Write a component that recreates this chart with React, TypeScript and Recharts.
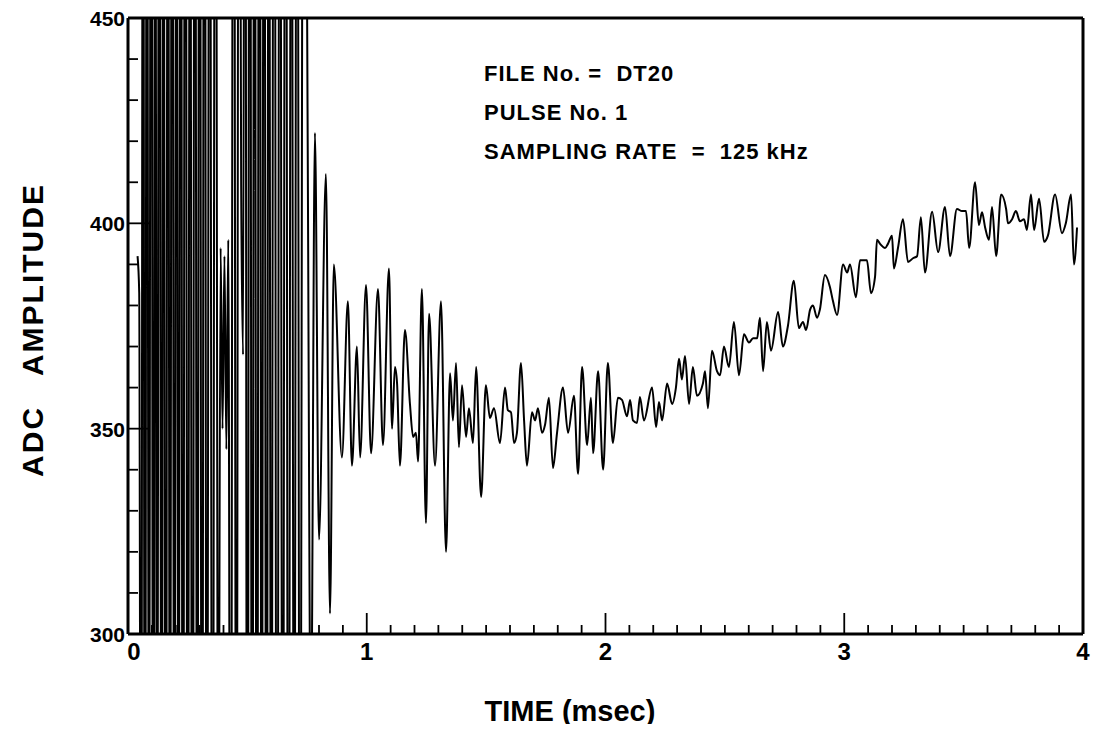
import React from 'react';
import { LineChart, Line, XAxis, YAxis, ReferenceLine } from 'recharts';

// Early, over-ranged oscillation (time in msec, ADC amplitude)
const EARLY_T = [
  0.040, 0.047, 0.055, 0.063, 0.071, 0.079, 0.088, 0.097, 0.106, 0.114,
  0.122, 0.131, 0.140, 0.149, 0.158, 0.167, 0.176, 0.185, 0.194, 0.203,
  0.212, 0.221, 0.230, 0.240, 0.250, 0.260, 0.270, 0.280, 0.290, 0.300,
  0.310, 0.320, 0.330, 0.342, 0.354, 0.366, 0.378, 0.388, 0.396, 0.404,
  0.412, 0.420, 0.430, 0.442, 0.454, 0.465, 0.474, 0.482, 0.490, 0.500,
  0.510, 0.520, 0.530, 0.540, 0.550, 0.560, 0.570, 0.580, 0.590, 0.600,
  0.612, 0.624, 0.636, 0.648, 0.660, 0.672, 0.684, 0.696, 0.708, 0.720,
  0.736, 0.752, 0.766, 0.783, 0.800, 0.829, 0.846,
];
const EARLY_ADC = [
  392, 383, 160, 610, 140, 590, 200, 630, 150, 580,
  170, 620, 190, 560, 130, 600, 180, 640, 160, 570,
  200, 600, 150, 620, 180, 560, 140, 600, 210, 590,
  160, 620, 190, 570, 170, 600, 230, 394, 350, 392,
  345, 396, 170, 610, 200, 590, 409, 368, 600, 150,
  620, 180, 580, 160, 600, 220, 590, 170, 560, 200,
  620, 150, 580, 190, 600, 170, 560, 210, 590, 200,
  600, 428, 270, 422, 323, 412, 305,
];

// Settled part of the pulse
const LATE_T = [
  0.862, 0.896, 0.921, 0.938, 0.959, 0.972, 0.997, 1.018, 1.047, 1.068,
  1.093, 1.106, 1.118, 1.127, 1.139, 1.160, 1.181, 1.194, 1.206, 1.215,
  1.231, 1.248, 1.261, 1.286, 1.311, 1.332, 1.349, 1.361, 1.374, 1.386,
  1.399, 1.416, 1.428, 1.445, 1.458, 1.479, 1.499, 1.516, 1.533, 1.558,
  1.579, 1.591, 1.604, 1.617, 1.629, 1.646, 1.659, 1.671, 1.692, 1.705,
  1.717, 1.734, 1.747, 1.763, 1.780, 1.797, 1.822, 1.843, 1.868, 1.885,
  1.902, 1.923, 1.939, 1.948, 1.969, 1.990, 2.010, 2.031, 2.052, 2.069,
  2.090, 2.103, 2.115, 2.132, 2.144, 2.161, 2.195, 2.212, 2.224, 2.237,
  2.258, 2.279, 2.295, 2.308, 2.320, 2.333, 2.350, 2.366, 2.383, 2.408,
  2.417, 2.429, 2.446, 2.467, 2.480, 2.496, 2.517, 2.538, 2.559, 2.580,
  2.601, 2.618, 2.635, 2.647, 2.660, 2.676, 2.693, 2.723, 2.743, 2.764,
  2.789, 2.810, 2.827, 2.840, 2.857, 2.869, 2.886, 2.898, 2.919, 2.940,
  2.953, 2.970, 2.995, 3.012, 3.024, 3.049, 3.066, 3.087, 3.095, 3.112,
  3.129, 3.137, 3.150, 3.171, 3.183, 3.200, 3.208, 3.225, 3.246, 3.267,
  3.288, 3.305, 3.321, 3.338, 3.368, 3.393, 3.422, 3.443, 3.472, 3.493,
  3.510, 3.523, 3.548, 3.564, 3.577, 3.590, 3.606, 3.619, 3.636, 3.657,
  3.678, 3.686, 3.703, 3.719, 3.736, 3.753, 3.765, 3.782, 3.795, 3.816,
  3.837, 3.853, 3.883, 3.912, 3.928, 3.950, 3.962, 3.975,
];
const LATE_ADC = [
  390, 343, 381, 341, 370, 343, 385, 344, 384, 346,
  389, 350, 365, 361, 341, 374, 356, 348, 349, 342,
  384, 327, 378, 341, 381, 320, 363.5, 352, 366, 345.5,
  360.6, 348, 355, 346.5, 365, 333.4, 360.6, 352.6, 355, 346.5,
  360, 354.5, 354, 346.5, 349, 366, 352, 341, 354, 352,
  355, 349, 351, 357.5, 340.4, 349, 360, 349, 358, 339,
  365, 346, 357.5, 344, 364, 340, 366, 346.5, 357.5, 357,
  353, 357, 352, 351.4, 357.7, 352, 360, 350.4, 356.5, 352,
  361, 356, 360, 367, 362, 367.7, 356, 365, 358, 361,
  364, 355, 369, 364, 363, 370, 365, 376, 363, 373,
  371, 372, 372, 377, 364, 376, 369, 378.4, 370, 375,
  386, 374.5, 376, 374, 379, 380, 377, 379, 387.4, 384.5,
  381, 377.7, 390, 388, 390, 382, 391, 391, 391, 383,
  387, 396, 395, 394, 395, 397, 389, 394, 401, 390.6,
  391.5, 392, 401.5, 388, 402.8, 393, 404, 392, 403.5, 403,
  403, 394, 410, 399.6, 402.7, 399, 396, 404, 392, 407,
  403.5, 400, 401, 403, 400.5, 401, 398.4, 407, 398.4, 406,
  395.5, 397, 407, 397.6, 400, 407, 390, 399,
];

const X_TICKS = [
  0, 0.1, 0.2, 0.3, 0.4, 0.5, 0.6, 0.7, 0.8, 0.9,
  1, 1.1, 1.2, 1.3, 1.4, 1.5, 1.6, 1.7, 1.8, 1.9,
  2, 2.1, 2.2, 2.3, 2.4, 2.5, 2.6, 2.7, 2.8, 2.9,
  3, 3.1, 3.2, 3.3, 3.4, 3.5, 3.6, 3.7, 3.8, 3.9, 4,
];
const X_LABELS = [0, 1, 2, 3, 4];
const Y_TICKS = [300, 310, 320, 330, 340, 350, 360, 370, 380, 390, 400, 410, 420, 430, 440, 450];
const Y_LABELS = [300, 350, 400, 450];

const ANNOTATION = ['FILE No. =  DT20', 'PULSE No. 1', 'SAMPLING RATE  =  125 kHz'];
const X_TITLE = 'TIME (msec)';
const Y_TITLE = 'ADC   AMPLITUDE';

const data = [...EARLY_T, ...LATE_T].map((t, i) => ({
  t,
  v: i < EARLY_T.length ? EARLY_ADC[i] : LATE_ADC[i - EARLY_T.length],
}));

const FONT = '"Liberation Sans", Arial, Helvetica, sans-serif';

const near = (a: number, b: number) => Math.abs(a - b) < 1e-6;

function XTick(props: any) {
  const { x, y, payload } = props;
  const val = payload.value;
  const major = X_LABELS.some((l) => near(l, val));
  return (
    <g>
      <line x1={x} x2={x} y1={y} y2={y - (major ? 21 : 9)} stroke="#000" strokeWidth={1.8} />
      {major && (
        <text x={x + (near(val, 0) ? 6 : 0)} y={y + 26} textAnchor="middle" fontSize={24} fontWeight="bold" fontFamily={FONT} fill="#000">
          {String(Math.round(val))}
        </text>
      )}
    </g>
  );
}

function YTick(props: any) {
  const { x, y, payload } = props;
  const val = payload.value;
  const labeled = Y_LABELS.some((l) => near(l, val));
  const len = near(val, 350) || near(val, 400) ? 22 : 10;
  return (
    <g>
      <line x1={x} x2={x + len} y1={y} y2={y} stroke="#000" strokeWidth={1.8} />
      {labeled && (
        <text x={x - 3} y={y + 8} textAnchor="end" fontSize={21} fontWeight="bold" fontFamily={FONT} fill="#000">
          {String(val)}
        </text>
      )}
    </g>
  );
}

export default function App() {
  return (
    <div style={{ position: 'relative', width: 1086, height: 716, background: '#fff' }}>
      <style>{'.recharts-surface { overflow: visible; }'}</style>
      <LineChart
        width={1086}
        height={716}
        data={data}
        margin={{ top: 10, right: 11, left: 60, bottom: 60 }}
      >
        <XAxis
          dataKey="t"
          type="number"
          domain={[0, 4]}
          ticks={X_TICKS}
          interval={0}
          allowDataOverflow
          height={30}
          tickSize={0}
          tickMargin={0}
          tickLine={false}
          axisLine={{ stroke: '#000', strokeWidth: 3 }}
          tick={<XTick />}
        />
        <YAxis
          type="number"
          domain={[300, 450]}
          ticks={Y_TICKS}
          interval={0}
          allowDataOverflow
          width={60}
          tickSize={0}
          tickMargin={0}
          tickLine={false}
          axisLine={{ stroke: '#000', strokeWidth: 3 }}
          tick={<YTick />}
        />
        <ReferenceLine y={450} stroke="#000" strokeWidth={3} />
        <ReferenceLine x={4} stroke="#000" strokeWidth={3} />
        <Line
          type="monotone"
          dataKey="v"
          stroke="#000"
          strokeWidth={2}
          dot={false}
          isAnimationActive={false}
        />
      </LineChart>
      <div
        style={{
          position: 'absolute',
          left: 476,
          top: 46,
          fontFamily: FONT,
          fontWeight: 'bold',
          fontSize: 22,
          letterSpacing: '1px',
          lineHeight: '39px',
          color: '#000',
          whiteSpace: 'pre',
        }}
      >
        {ANNOTATION.map((s) => (
          <div key={s}>{s}</div>
        ))}
      </div>
      <div
        style={{
          position: 'absolute',
          left: 562,
          top: 687,
          transform: 'translateX(-50%)',
          fontFamily: FONT,
          fontWeight: 'bold',
          fontSize: 29,
          lineHeight: '32px',
          color: '#000',
          whiteSpace: 'pre',
        }}
      >
        {X_TITLE}
      </div>
      <div
        style={{
          position: 'absolute',
          left: 25,
          top: 322,
          transform: 'translate(-50%, -50%) rotate(-90deg)',
          fontFamily: FONT,
          fontWeight: 'bold',
          fontSize: 30,
          letterSpacing: '2px',
          lineHeight: '32px',
          color: '#000',
          whiteSpace: 'pre',
        }}
      >
        {Y_TITLE}
      </div>
    </div>
  );
}
